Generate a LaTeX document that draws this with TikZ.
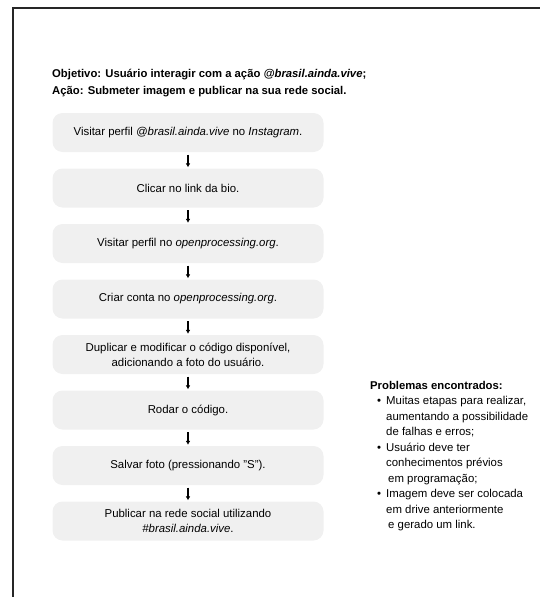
\documentclass[tikz,border=0pt]{standalone}
\usepackage{fontspec}
\setmainfont{Liberation Sans}
\usetikzlibrary{arrows.meta}
\definecolor{boxgray}{HTML}{F0F0F0}
\definecolor{framecol}{HTML}{262626}
\begin{document}
\begin{tikzpicture}[x=1pt,y=-1pt,
  frameline/.style={draw=framecol, line width=2.6pt, line join=miter},
  titletext/.style={inner sep=0pt, anchor=base west, font=\bfseries\fontsize{11.3}{15}\selectfont},
  stepbox/.style={fill=boxgray, rounded corners=10pt, minimum width=271pt, minimum height=39pt,
    inner sep=0pt, align=center, font=\fontsize{11.4}{15}\selectfont},
  flow/.style={-{Latex[length=4pt,width=4.8pt]}, line width=1.2pt, shorten <=2.5pt, shorten >=1pt},
  probhead/.style={inner sep=0pt, anchor=base west, font=\bfseries\fontsize{11.3}{15}\selectfont},
  probline/.style={inner sep=0pt, anchor=base west, font=\fontsize{11.4}{15.5}\selectfont}]
\useasboundingbox (0,0) rectangle (540,597);
% frame
\draw[frameline] (13,600) -- (13,8) -- (543,8);
% title
\node[titletext] (t1) at (52,77.5) {Objetivo: Usuário interagir com a ação \textit{@brasil.ainda.vive};};
\node[titletext] (t2) at (52,94) {Ação: Submeter imagem e publicar na sua rede social.};
% steps
\node[stepbox] (b1) at (188,132.5) {Visitar perfil \textit{@brasil.ainda.vive} no \textit{Instagram}.};
\node[stepbox] (b2) at (188,188) {Clicar no link da bio.};
\node[stepbox] (b3) at (188,243.5) {Visitar perfil no \textit{openprocessing.org}.};
\node[stepbox] (b4) at (188,299) {Criar conta no \textit{openprocessing.org}.};
\node[stepbox] (b5) at (188,354.5) {Duplicar e modificar o código disponível,\\adicionando a foto do usuário.};
\node[stepbox] (b6) at (188,410) {Rodar o código.};
\node[stepbox] (b7) at (188,465.5) {Salvar foto (pressionando "S").};
\node[stepbox] (b8) at (188,521) {Publicar na rede social utilizando\\\textit{\#brasil.ainda.vive}.};
\foreach \a/\b in {b1/b2,b2/b3,b3/b4,b4/b5,b5/b6,b6/b7,b7/b8}
  \draw[flow] (\a.south) -- (\b.north);
% problems
\node[probhead] (p0) at (370,389) {Problemas encontrados:};
\foreach \t [count=\i] in {
  {\llap{\textbullet\hspace{5pt}}Muitas etapas para realizar,},
  {aumentando a possibilidade},
  {de falhas e erros;},
  {\llap{\textbullet\hspace{5pt}}Usuário deve ter},
  {conhecimentos prévios},
  {\hspace*{2pt}em programação;},
  {\llap{\textbullet\hspace{5pt}}Imagem deve ser colocada},
  {em drive anteriormente},
  {\hspace*{2pt}e gerado um link.}}
  \node[probline] (p\i) at (386,{389+15.5*\i}) {\t};
\end{tikzpicture}
\end{document}
